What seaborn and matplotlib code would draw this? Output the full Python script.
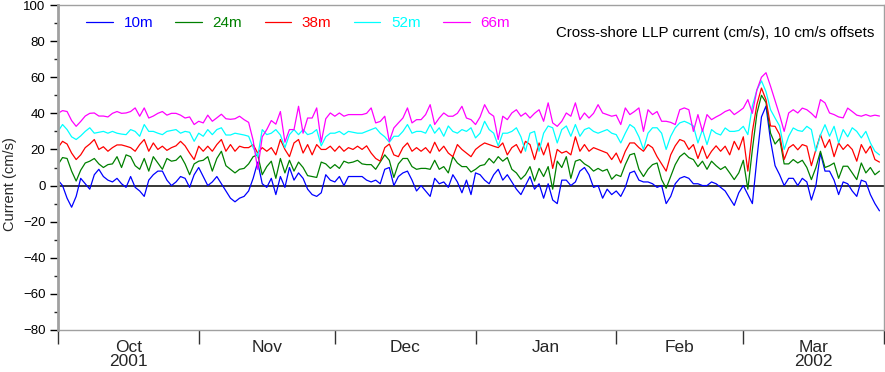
import numpy as np
import pandas as pd
import matplotlib
matplotlib.use('Agg')
import matplotlib.pyplot as plt
from matplotlib.lines import Line2D
from matplotlib.ticker import MultipleLocator
import seaborn as sns

# daily cross-shore current (cm/s), 2001-10-01 .. 2002-03-31
start_date = '2001-10-01'
depths = ['10m', '24m', '38m', '52m', '66m']
offsets = [0, 10, 20, 30, 40]
colors = ['#0000ff', '#008000', '#ff0000', '#00ffff', '#ff00ff']
month_labels = ['Oct\n2001', 'Nov', 'Dec', 'Jan', 'Feb', 'Mar\n2002']

u10 = [3, 0, -7, -12, -6, 4, 1, -2, 6, 9, 5, 3, 2, 4, 1, -1, 5, -1, -3, -6, 3, 6, 8, 8, 3, 0, 2, 5, 4, -1,
       6, 10, 5, 0, 2, 5, 1, -3, -7, -9, -7, -6, -3, 4, 13, 1, -1, 4, -5, 5, -1, 10, 3, 7, 4, -2, -5, -6, -4, 6,
       3, 2, 5, 0, 5, 5, 5, 5, 3, 2, 3, 1, 9, 10, 0, 5, 7, 8, 3, -3, 0, -3, -6, 4, 1, 2, -1, 6, 2, -4,
       3, -5, 7, 6, 3, 1, 6, 9, 3, 6, 2, -2, -5, 0, 5, -2, 1, -7, 1, -8, -10, 3, 3, 0, 2, 8, 10, 6, -1, 0,
       -7, -2, -5, -3, -6, -1, 7, 8, 3, 2, 2, 1, -1, 0, -10, -6, 1, 4, 5, 4, 1, 1, 0, 0, 2, 1, -1, -3, -7, -11,
       -4, 0, -5, -10, 15, 38, 44, 25, 11, 6, 0, 4, 4, 0, 4, 2, -8, 0, 18, 8, 8, 3, -5, 2, 1, -3, -6, 3, 2, -5, -10, -14]

u24 = [1.6, 5.5, 5, -2, -7.5, -1.5, 2.5, 3.5, 5, 2, 0, 1.6, 2, 6, 0, 7, 6, 1, -1, 5, -2, 6, 2.5, -1, 5, 3.5, 4, 6.5, 2, -4,
       2, 3.5, 4, 6, -2, 5, 9, 1, -1, -3, -1, -0.5, 2, 6, 7, -4, 0.5, 3.5, -6, 5, -3, 4, -2, 3, 0, -4.5, -5, -5.5, 3, 2,
       -0.5, 1.6, -0.5, 3.5, 2.5, 3, 4, 2, 1.6, 1.6, -1, 3, 7, 4, -5.5, 2, 5, 5, 0.5, -1, -0.5, -0.5, -1, 4, -1, 0.5, -3, 6, 2.5, 0.5,
       0.5, -2.5, -1, 1, 1.6, 5, 2.5, 6, 3.5, 5.5, -1, -3, -6.5, -4, 0.5, -7.5, -0.5, -5, 0.5, -12, 3.5, 0, 6, -6, 3.5, 4.4, 2, 0.5, -2, -0.5,
       -2, -1, -6.5, -4, -5, 1.6, 7, 7.8, -1, -5, -1, 1.6, 2.5, -6.7, -11.5, -5, 1.6, 6, 8, 5.5, 4.4, 0.5, 3.5, -1, 3.5, 1, -1.1, 0.5, -3, -6.7,
       -3, 4, -12, 10, 30, 40, 36, 19, 13, 16, 2, 2, 4.4, 2.5, 4, 0, -6.7, 0, 9, 0, 1, 2.5, -6, 0.7, 0.7, -3, -6.7, 2.5, -3, 0, -4, -2]

u38 = [1, 4.5, 3, -2, -5.6, -3, 1, 3, 5.5, 0, 1.5, -1, 1, 2.5, 2.5, 1.8, 1, -1, 2.7, 5.5, -1, 3.6, 0, 1.8, -0.5, 1, 2, 4.5, 2, -2,
       -5.6, 1.8, -1, 1.8, -1, 2.7, 5.5, -1, 2.7, -1, 1.8, 1, 1, 2.7, -2, 1, -1, 1, -3, 5.5, 0, -4, 3.6, 5.5, -2, 2.7, -3, 2.7, 0, 0,
       1.8, -1, 1.8, -1, 1, 0, 1.8, 0, 2, -2, -5, -6.5, 1, 3, -3, -4, 1, 3.6, -1, 1, -1, 1, -2, 4, -1, 1.8, -2, -4, 2.7, 0,
       -2, -4, 0, 2, 3.6, 2.7, 1.8, 1, 3.6, -3, 1, 2.7, -2, 4.5, 2.7, -5.6, 3.6, -3, 3.6, -10.5, 0, -2, -1, -3, 7, -1, 2.7, -1, 1, 0,
       -1, -2, -5.6, -2, -7.5, -1, 3.6, 3.6, 1, -1, 2.7, 1, -4, -8, -12, -3, 2, 5.5, 4.5, 0, 2.7, -5, 1.8, -5, -1, 2, -1, 1.8, -3, 4.5,
       -0.2, 7, -12, 10, 25, 34, 27.5, 13, 12.8, 8.2, -5.6, 0.9, 2.7, -0.2, 2.7, 1.8, -9, 0, 8.2, 1, 5.5, -4, 3.6, 0, 2.7, 0, -6.5, 2.7, -2, 1.8, -5.6, -7]

u52 = [0, 3.8, 1, -3, -4.5, -2.5, 0, 2, -1, -0.5, 0, -1, 0, -1, -1.5, -1.8, 1, 0, -2.7, 3.8, 0, 0, -1, -1.8, 0, 0.5, 1, -1, 0, -0.5,
       -5.5, -1, -2.7, 1, -1.8, 1, 2, -2, -2, -1, -1.5, -2, -2.7, -9, -14, 1, -1.8, -1, 1, -2, -9, -1.8, 1, -1.8, 1, -1.8, -1, 1, -8, -3,
       -1, -1, 0, -1.8, 0, -0.5, -1, -1, 0, 1, 2, -1, -3, -6, -2.7, -2.7, 0, 3.8, -1, 0, 0, -1, 3.8, -1, 2, -2.7, 3, 0, -1, 1,
       0, 2, -3.6, -1, 5.6, 1, -1, -8, -1, -1, 0, 2, -3, -11, -1, 0, -11, -1, 3, 2, -6.4, 1, 3, -2.7, 3.8, -2.7, 1, 2, 0, -1,
       0, 1, -1, -1.8, -6.4, -1, 3.8, 2, -3, -10, -1, 2, 2, -1, -10, -2.7, 2, 4.7, 5.6, 4.5, 3, -6.4, 1, -7.3, 1, -1, -2, 1.9, 0, 0,
       0.5, 2.8, -1.8, 14, 23, 28, 22, 12, 7.4, 3, -10, -2.7, 1.9, 0.5, 0, 2.8, 1, -11, -2, 3.7, -2.7, 2.8, -6.4, 1, -3, 2, 0, -3.6, 0, -6.4, -11, -13]

u66 = [0, 1.5, 1, -4, -7.2, -4.5, -1.5, 0, 0.2, -1.5, -1.5, -2, 0, 1, 0, 0.2, 1, 3, -1.6, 3, -2.6, -1.5, 0, 1, -1, 0, 0, -1, -2.6, -2,
       -6.2, -4.4, -5.3, -1, -4.4, -2.5, -0.5, -3, -3.3, -3, -1.6, -3.5, -5, -15, -31, -13, -9, -4, -6, 1, -16, -9, -9, 3.9, -11, -2.6, -2.6, 3, -16, -3,
       0.2, -1.6, 0.2, -1.6, -0.7, -0.7, -0.7, -0.7, 0, 3, -5.3, -4.5, -1.6, -15.5, -8.1, -5.3, -2.6, 3, -5.3, -3.5, -3.5, -0.7, 4.8, -6.2, -2.6, 0.2, -1.6, -1.6, 0, 3.9,
       -2.6, -3.5, -6.2, -2, 4.8, 0.2, -1.6, -14.5, -1.6, -3.5, 0.2, 2, -1.6, 0.2, -2.6, 0, 2, -4.4, 5.8, -5.3, -7.2, -4.4, 0.2, -1.6, 5.8, -3.5, 0.2, -2.6, 0, 4.8,
       0.2, -0.7, -1.6, -1, -6.2, 3, -0.7, 1, 3, -10, 2, -0.7, 1, -4.4, -4.4, -5, -6.2, 2, 3, 2, -10, -0.7, -10, -0.7, -3.5, -2, -0.7, 1, 2, -0.7,
       1, 2.9, 7.6, 0, 13, 20, 22.5, 15, 7, -1, -10, 0.2, 2, 0.2, 2.9, 2, 0, -2.5, 7.6, 5.8, 0.2, -0.7, -2, -2.5, 2.9, 1, -1, -1.6, -0.7, -1.6, -1, -1.5]

frames = []
for name, off, vals in zip(depths, offsets, [u10, u24, u38, u52, u66]):
    dates = pd.date_range(start_date, periods=len(vals), freq='D')
    frames.append(pd.DataFrame({'date': dates, 'current': np.array(vals, dtype=float) + off, 'depth': name}))
df = pd.concat(frames, ignore_index=True)

sns.set_theme(style='white')
plt.rcParams['font.family'] = ['Liberation Sans', 'DejaVu Sans']

fig = plt.figure(figsize=(8.85, 3.72), dpi=100)
ax = fig.add_axes([58 / 885, 1 - 330 / 372, 826 / 885, 325 / 372])

ax.axhline(0, color='black', lw=1.1, zorder=1)
sns.lineplot(data=df, x='date', y='current', hue='depth', palette=dict(zip(depths, colors)),
             estimator=None, lw=0.9, legend=False, ax=ax, zorder=2)

ax.set_ylim(-80, 100)
ax.set_xlim(pd.Timestamp('2001-10-01'), pd.Timestamp('2002-04-01'))
ax.yaxis.set_major_locator(MultipleLocator(20))
ax.yaxis.set_minor_locator(MultipleLocator(10))
ax.tick_params(axis='y', which='major', direction='out', length=6, width=1, colors='black',
               labelsize=9.5, pad=3, left=True)
ax.tick_params(axis='y', which='minor', direction='out', length=3, width=1, left=True)

month_starts = pd.date_range('2001-10-01', '2002-04-01', freq='MS')
mids = month_starts[:-1] + (month_starts[1:] - month_starts[:-1]) / 2
ax.set_xticks(month_starts)
ax.set_xticklabels([])
ax.set_xticks(mids, minor=True)
ax.set_xticklabels(month_labels, minor=True, linespacing=0.85)
ax.tick_params(axis='x', which='major', direction='out', length=10, width=1, color='#333333', bottom=True)
ax.tick_params(axis='x', which='minor', length=0, labelsize=12.5, pad=7.5, bottom=True)
ax.set_xlabel('')

ax.set_ylabel('Current (cm/s)', fontsize=10.5)
ax.yaxis.set_label_coords(-0.05, 0.45)

for side in ['top', 'right', 'bottom']:
    ax.spines[side].set_color('#a0a0a0')
    ax.spines[side].set_linewidth(1)
ax.spines['left'].set_color('#a0a0a0')
ax.spines['left'].set_linewidth(2)

handles = [Line2D([], [], color=c, lw=0.9) for c in colors]
ax.legend(handles, depths, ncol=5, loc='upper left', bbox_to_anchor=(0.034, 0.965), frameon=False,
          fontsize=11, labelcolor=colors, handlelength=1.75, handletextpad=0.7, columnspacing=1.45,
          borderpad=0, borderaxespad=0)

ax.text(0.988, 0.914, 'Cross-shore LLP current (cm/s), 10 cm/s offsets', transform=ax.transAxes,
        ha='right', va='center', fontsize=10.8, color='black')

fig.savefig('out.png', dpi=100)
